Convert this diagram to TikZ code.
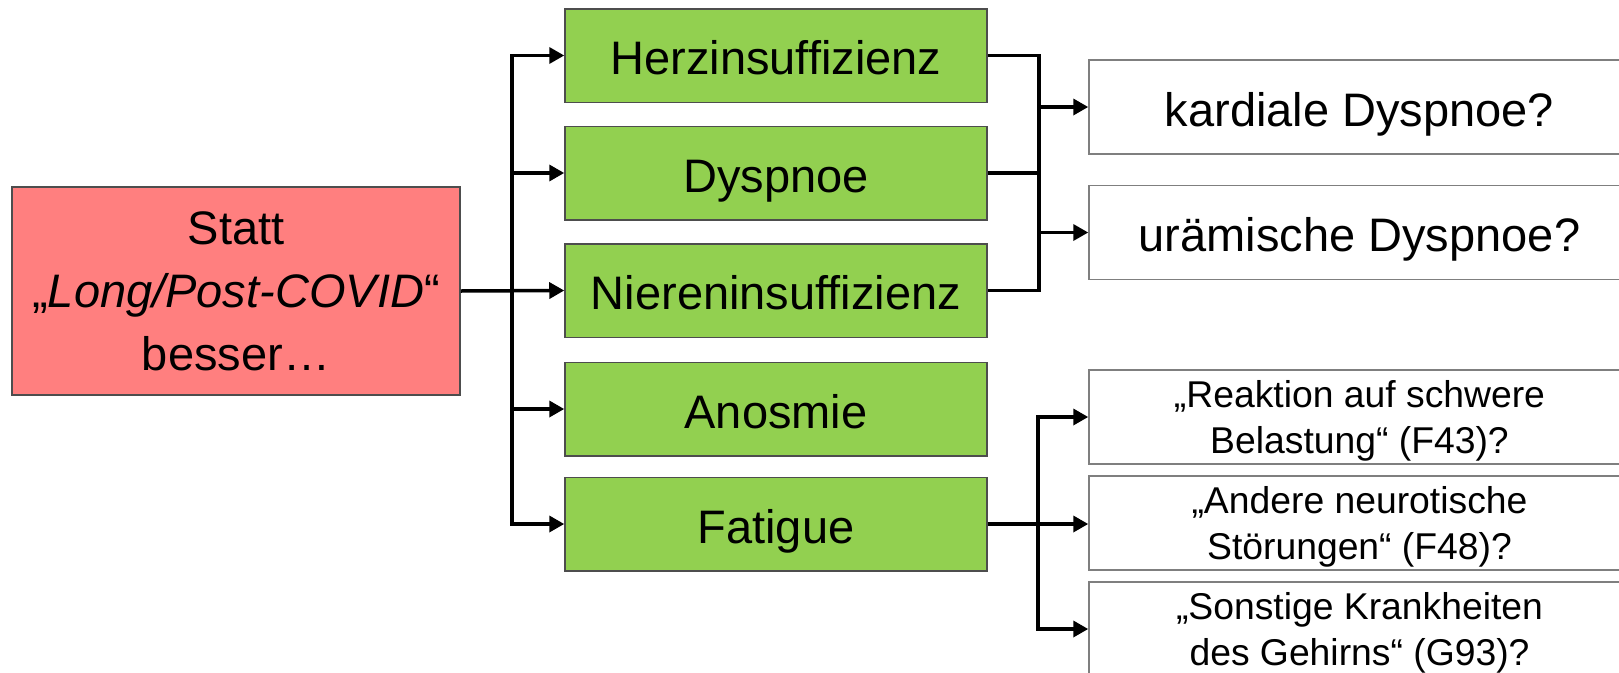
\documentclass[tikz,border=0pt]{standalone}
\usepackage{fontspec}
\setmainfont{Liberation Sans}
\usetikzlibrary{arrows.meta}
\definecolor{gfill}{HTML}{92D050}
\definecolor{rfill}{HTML}{FF7F7F}
\definecolor{bdark}{HTML}{4D4D4D}
\definecolor{bgray}{HTML}{7F7F7F}
\newcommand{\topstrut}{\rule{0pt}{35pt}}
\newcommand{\botstrut}{\rule[-9pt]{0pt}{9pt}}
\begin{document}
\begin{tikzpicture}[x=1pt,y=-1pt,
  basebox/.style={inner sep=0pt, line width=1.5pt},
  greenbox/.style={basebox, draw=bdark, fill=gfill, minimum width=422pt, minimum height=93.5pt,
    font=\fontsize{47}{56}\selectfont, text height=43pt, text depth=5pt},
  redbox/.style={basebox, draw=bdark, fill=rfill, minimum width=448pt, minimum height=208pt,
    align=center, font=\fontsize{47}{63}\selectfont},
  whitebig/.style={basebox, draw=bgray, fill=white, minimum width=541pt, minimum height=94pt,
    font=\fontsize{47}{56}\selectfont, text height=43pt, text depth=5pt},
  whitesmall/.style={basebox, draw=bgray, fill=white, minimum width=541pt, minimum height=94pt,
    align=center, font=\fontsize{37.3}{46}\selectfont},
  conn/.style={line width=3.5pt, line join=miter},
  arr/.style={conn, -{Triangle[length=15pt,width=16pt]}},
  arrboth/.style={conn, {Triangle[length=15pt,width=16pt]}-{Triangle[length=15pt,width=16pt]}}
]
\useasboundingbox (0,0) rectangle (1619,672);
\clip (0,0) rectangle (1619,672);

\node[redbox] (red) at (236,291) {Statt\\„\textit{Long/Post-COVID}“\\besser…};

\node[greenbox] (herz) at (776,55.5) {Herzinsuffizienz};
\node[greenbox] (dys) at (776,173) {Dyspnoe};
\node[greenbox] (nieren) at (776,290.5) {Niereninsuffizienz};
\node[greenbox] (anos) at (776,409) {Anosmie};
\node[greenbox] (fat) at (776,524) {Fatigue};

\node[whitebig] (kard) at (1359.5,107) {kardiale Dyspnoe?};
\node[whitebig] (uraem) at (1359.5,232.5) {urämische Dyspnoe?};

\node[whitesmall] (f1) at (1359.5,417) {\topstrut„Reaktion auf schwere\\Belastung“ (F43)?\botstrut};
\node[whitesmall] (f2) at (1359.5,523) {\topstrut„Andere neurotische\\Störungen“ (F48)?\botstrut};
\node[whitesmall] (f3) at (1359.5,629) {\topstrut„Sonstige Krankheiten\\des Gehirns“ (G93)?\botstrut};

\coordinate (bl) at (512,0);
\coordinate (br) at (1039,0);
\coordinate (bb) at (1038,0);

% left bus
\draw[arrboth] (herz.west) -- (bl |- herz.west) -- (bl |- fat.west) -- (fat.west);
\draw[arr] (bl |- dys.west) -- (dys.west);
\draw[arr] (bl |- anos.west) -- (anos.west);
\draw[arr] (red.east) -- (nieren.west);

% top right bus
\draw[conn] (herz.east) -- (br |- herz.east) -- (br |- nieren.east) -- (nieren.east);
\draw[conn] (dys.east) -- (br |- dys.east);
\draw[arr] (br |- kard.west) -- (kard.west);
\draw[arr] (br |- uraem.west) -- (uraem.west);

% bottom right bus
\draw[arrboth] (f1.west) -- (bb |- f1.west) -- (bb |- f3.west) -- (f3.west);
\draw[arr] (fat.east) -- (fat.east -| f2.west);
\end{tikzpicture}
\end{document}
